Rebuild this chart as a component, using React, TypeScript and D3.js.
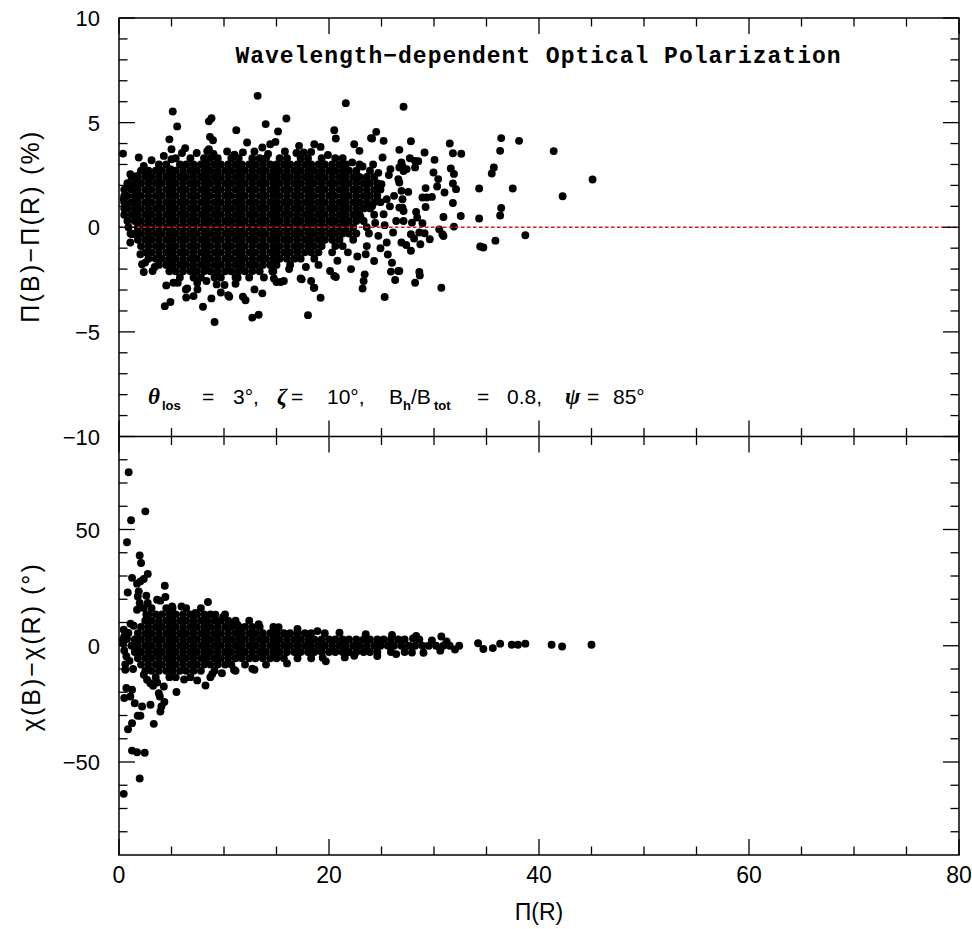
import React from "react";
import * as d3 from "d3";

// ---------- axis ticks ----------
const X_MAJOR = [0, 20, 40, 60, 80];
const TOP_Y_MAJOR = [-10, -5, 0, 5, 10];
const BOT_Y_MAJOR = [-50, 0, 50];

// ---------- top panel: Π(B)−Π(R) vs Π(R) ----------
// dense, saturated core of the cloud, read as rows: [y, x values]
const TOP_CORE_ROWS: [number, number[]][] = [
  [3.3, [5.4, 6.8, 8.1, 8.7, 9.4, 10.7, 11.4, 12.7, 13.4, 14.0, 15.3, 16.0, 17.3, 18.0, 19.3, 20.6]],
  [3.0, [3.8, 4.5, 5.8, 6.4, 7.1, 7.8, 8.4, 9.1, 9.7, 10.4, 11.1, 11.7, 12.4, 13.0, 13.7, 14.4, 15.0, 15.7, 16.3, 17.0, 17.7, 18.3, 19.0, 19.6, 20.3, 21.0, 21.6, 22.9]],
  [2.7, [2.1, 2.8, 3.5, 4.1, 4.8, 5.4, 6.1, 6.8, 7.4, 8.1, 8.7, 9.4, 10.1, 10.7, 11.4, 12.0, 12.7, 13.4, 14.0, 14.7, 15.3, 16.0, 16.7, 17.3, 18.0, 18.6, 19.3, 20.0, 20.6, 21.3, 21.9, 22.6, 23.9]],
  [2.4, [1.2, 1.8, 2.5, 3.1, 3.8, 4.5, 5.1, 5.8, 6.4, 7.1, 7.8, 8.4, 9.1, 9.7, 10.4, 11.1, 11.7, 12.4, 13.0, 13.7, 14.4, 15.0, 15.7, 16.3, 17.0, 17.7, 18.3, 19.0, 19.6, 20.3, 21.0, 21.6, 22.3, 22.9, 23.6, 24.3]],
  [2.1, [0.8, 1.5, 2.1, 2.8, 3.5, 4.1, 4.8, 5.4, 6.1, 6.8, 7.4, 8.1, 8.7, 9.4, 10.1, 10.7, 11.4, 12.0, 12.7, 13.4, 14.0, 14.7, 15.3, 16.0, 16.7, 17.3, 18.0, 18.6, 19.3, 20.0, 20.6, 21.3, 21.9, 22.6, 23.3, 23.9, 24.6]],
  [1.8, [0.5, 1.2, 1.8, 2.5, 3.1, 3.8, 4.5, 5.1, 5.8, 6.4, 7.1, 7.8, 8.4, 9.1, 9.7, 10.4, 11.1, 11.7, 12.4, 13.0, 13.7, 14.4, 15.0, 15.7, 16.3, 17.0, 17.7, 18.3, 19.0, 19.6, 20.3, 21.0, 21.6, 22.3, 22.9, 23.6, 24.3, 24.9]],
  [1.5, [0.5, 0.8, 1.5, 2.1, 2.8, 3.5, 4.1, 4.8, 5.4, 6.1, 6.8, 7.4, 8.1, 8.7, 9.4, 10.1, 10.7, 11.4, 12.0, 12.7, 13.4, 14.0, 14.7, 15.3, 16.0, 16.7, 17.3, 18.0, 18.6, 19.3, 20.0, 20.6, 21.3, 21.9, 22.6, 23.3, 23.9, 24.6]],
  [1.2, [0.5, 1.2, 1.8, 2.5, 3.1, 3.8, 4.5, 5.1, 5.8, 6.4, 7.1, 7.8, 8.4, 9.1, 9.7, 10.4, 11.1, 11.7, 12.4, 13.0, 13.7, 14.4, 15.0, 15.7, 16.3, 17.0, 17.7, 18.3, 19.0, 19.6, 20.3, 21.0, 21.6, 22.3, 22.9, 23.6, 24.3, 24.9]],
  [0.9, [0.5, 0.8, 1.5, 2.1, 2.8, 3.5, 4.1, 4.8, 5.4, 6.1, 6.8, 7.4, 8.1, 8.7, 9.4, 10.1, 10.7, 11.4, 12.0, 12.7, 13.4, 14.0, 14.7, 15.3, 16.0, 16.7, 17.3, 18.0, 18.6, 19.3, 20.0, 20.6, 21.3, 21.9, 22.6, 23.3, 23.9]],
  [0.6, [0.5, 1.2, 1.8, 2.5, 3.1, 3.8, 4.5, 5.1, 5.8, 6.4, 7.1, 7.8, 8.4, 9.1, 9.7, 10.4, 11.1, 11.7, 12.4, 13.0, 13.7, 14.4, 15.0, 15.7, 16.3, 17.0, 17.7, 18.3, 19.0, 19.6, 20.3, 21.0, 21.6, 22.3, 22.9, 24.3]],
  [0.3, [0.8, 1.5, 2.1, 2.8, 3.5, 4.1, 4.8, 5.4, 6.1, 6.8, 7.4, 8.1, 8.7, 9.4, 10.1, 10.7, 11.4, 12.0, 12.7, 13.4, 14.0, 14.7, 15.3, 16.0, 16.7, 17.3, 18.0, 18.6, 19.3, 20.0, 20.6, 21.3, 21.9, 22.6, 23.3]],
  [0.0, [0.9, 1.8, 2.5, 3.1, 3.8, 4.5, 5.1, 5.8, 6.4, 7.1, 7.8, 8.4, 9.1, 9.7, 10.4, 11.1, 11.7, 12.4, 13.0, 13.7, 14.4, 15.0, 15.7, 16.3, 17.0, 17.7, 18.3, 19.0, 19.6, 20.3, 21.0, 21.6, 22.3, 23.6]],
  [-0.3, [1.1, 1.5, 2.1, 2.8, 3.5, 4.1, 4.8, 5.4, 6.1, 6.8, 7.4, 8.1, 8.7, 9.4, 10.1, 10.7, 11.4, 12.0, 12.7, 13.4, 14.0, 14.7, 15.3, 16.0, 16.7, 17.3, 18.0, 18.6, 19.3, 20.0, 20.6, 21.3, 21.9, 22.6]],
  [-0.6, [1.8, 2.5, 3.1, 3.8, 4.5, 5.1, 5.8, 6.4, 7.1, 7.8, 8.4, 9.1, 9.7, 10.4, 11.1, 11.7, 12.4, 13.0, 13.7, 14.4, 15.0, 15.7, 16.3, 17.0, 17.7, 18.3, 19.0, 19.6, 20.3, 21.0, 22.3]],
  [-0.9, [2.1, 2.8, 3.5, 4.1, 4.8, 5.4, 6.1, 6.8, 7.4, 8.1, 8.7, 9.4, 10.1, 10.7, 11.4, 12.0, 12.7, 13.4, 14.0, 14.7, 15.3, 16.0, 16.7, 17.3, 18.0, 18.6, 19.3, 20.6, 21.3]],
  [-1.2, [2.5, 3.1, 3.8, 4.5, 5.1, 5.8, 6.4, 7.1, 7.8, 8.4, 9.1, 9.7, 10.4, 11.1, 11.7, 12.4, 13.0, 13.7, 14.4, 15.0, 15.7, 16.3, 17.0, 17.7, 18.3, 19.0, 20.3]],
  [-1.5, [2.8, 3.5, 4.1, 4.8, 5.4, 6.1, 6.8, 7.4, 8.1, 8.7, 9.4, 10.1, 10.7, 11.4, 12.0, 12.7, 13.4, 14.0, 14.7, 15.3, 16.0, 16.7, 17.3, 18.6]],
  [-1.8, [3.8, 4.5, 5.1, 5.8, 6.4, 7.1, 7.8, 8.4, 9.1, 9.7, 10.4, 11.1, 11.7, 12.4, 13.0, 13.7, 14.4, 15.0, 16.3]],
  [-2.1, [4.8, 5.4, 6.1, 6.8, 7.4, 8.1, 8.7, 9.4, 10.1, 10.7, 11.4, 12.0, 12.7, 13.4, 14.7]],
  [-2.4, [5.8, 7.1, 7.8, 9.1, 9.7, 11.1, 12.4]],
];

// scattered points around the core and the sparse tail: [x, y]
const TOP_SCATTER: [number, number][] = [
  [13.2, 6.28], [21.6, 5.93], [5.12, 5.53], [5.54, 4.82], [8.56, 5.06], [8.81, 5.21], [13.97, 4.93], [15.94, 5.2],
  [11.17, 4.64], [15.15, 4.58], [20.5, 4.64], [20.65, 4.24], [0.38, 3.52], [4.8, 4.2], [5.0, 3.73], [4.27, 3.41],
  [5.0, 3.25], [4.9, 2.78], [8.66, 4.32], [8.95, 4.16], [8.56, 3.73], [8.4, 3.64], [12.2, 4.05], [14.4, 3.97],
  [14.9, 4.08], [13.65, 3.81], [6.3, 3.78], [17.15, 3.89], [18.6, 3.97], [19.2, 3.84], [18.3, 3.6], [22.4, 3.97],
  [22.9, 3.65], [24.1, 4.24], [24.5, 4.56], [24.0, 4.26], [25.2, 4.13], [10.3, 3.62], [11.8, 3.58], [16.9, 3.55],
  [7.4, 3.55], [15.8, 3.62], [21.3, 3.3], [22.2, 3.1], [3.1, 3.2], [6.0, 3.55], [9.0, 3.5], [12.9, 3.62],
  [14.2, 3.5], [17.6, 3.58], [19.9, 3.45], [11.0, 3.47],
  [27.1, 5.76], [27.8, 4.11], [26.7, 3.7], [27.7, 3.3], [28.2, 3.17], [28.5, 3.16], [27.0, 2.9], [27.1, 2.69],
  [26.7, 2.86], [26.7, 2.14], [28.2, 2.86], [29.1, 3.57], [30.05, 3.22], [29.95, 2.62], [30.4, 2.3], [30.3, 1.95],
  [31.0, 1.66], [29.2, 1.87], [28.9, 1.42], [29.3, 1.42], [29.8, 1.45], [29.2, 0.97], [27.55, 1.69], [27.0, 0.94],
  [27.1, 0.78], [26.7, 0.94], [28.3, 0.73], [28.4, 0.46], [27.9, 0.22], [28.9, 0.19], [27.1, 0.3], [30.9, 0.49],
  [31.9, 0.03], [30.5, -0.1], [30.8, -0.33], [30.9, -0.42], [27.8, -0.33], [28.1, -0.54], [28.6, -0.25], [29.1, -0.29],
  [29.6, -0.57], [26.9, -0.73], [27.35, -0.85], [27.8, -1.12], [28.7, -0.81], [26.7, -2.09], [28.2, -2.65], [28.6, -2.14],
  [28.65, -2.3], [30.7, -2.89], [31.5, 4.0], [31.8, 3.54], [32.6, 3.51], [31.6, 2.81], [31.9, 2.55], [31.8, 2.09],
  [32.1, 1.82], [31.8, 1.16], [32.55, 0.54], [34.3, 0.42], [34.3, 1.85], [34.4, -0.92], [34.7, -0.97], [35.85, -0.64],
  [36.3, 3.65], [36.4, 4.26], [35.7, 2.86], [35.5, 2.57], [36.4, 0.92], [36.3, 0.56], [37.5, 1.85], [38.7, -0.38],
  [38.1, 4.13], [41.4, 3.64], [42.25, 1.48], [45.1, 2.28],
  [26.3, -2.52], [25.9, -2.12], [26.6, -2.09], [25.3, -3.33],
  [25.0, 2.06], [25.5, 1.34], [25.2, 0.62], [24.7, -0.41], [25.5, -0.73], [26.1, -0.25], [26.4, 0.3], [27.0, 1.34],
  [26.9, 1.74], [26.6, 2.3], [27.4, 2.78], [26.9, 3.1], [25.85, 2.78], [25.1, 3.33], [25.6, -1.3], [26.0, -1.7],
  [24.9, -1.0], [25.3, 0.1], [25.8, 1.0], [26.2, 1.5], [24.2, 3.0], [23.6, -0.9], [22.7, -1.4], [21.8, -1.2],
  [24.1, 1.0], [24.4, 0.2], [23.0, 0.5], [23.8, -0.3], [25.7, 2.5], [23.2, 2.9], [24.7, 2.6],
  [9.1, -4.53], [12.7, -4.32], [13.3, -4.18], [18.0, -4.2], [4.36, -3.77], [4.9, -3.57], [8.0, -3.8], [6.4, -3.36],
  [7.1, -3.29], [8.8, -3.4], [10.5, -3.32], [11.8, -3.32], [12.05, -3.49], [13.65, -3.16], [12.9, -2.97], [19.2, -3.37],
  [4.5, -2.78], [5.6, -2.65], [6.5, -2.92], [7.45, -2.65], [8.33, -2.57], [9.3, -2.73], [10.05, -2.76], [11.1, -2.7],
  [11.3, -2.41], [15.4, -2.62], [14.75, -2.45], [17.3, -2.45], [18.6, -2.89], [20.65, -2.38], [20.1, -2.09], [22.1, -2.0],
  [23.4, -2.25], [23.3, -2.57], [23.2, -2.93], [24.3, -1.61], [23.5, -1.29], [3.2, -2.09], [2.36, -2.14], [2.04, -1.29],
  [2.5, -1.69], [2.2, -1.77], [1.24, -0.33], [1.08, -0.73], [9.7, -3.12], [10.4, -3.25], [15.7, -2.57], [15.0, -2.62],
  [17.4, -2.49], [18.3, -2.57], [18.55, -2.89], [20.5, -2.33], [5.19, -2.65], [6.37, -2.97], [7.47, -2.97],
  [16.2, -2.0], [17.8, -1.9], [19.0, -1.8], [20.8, -1.6], [14.6, -2.1], [13.8, -2.4], [3.4, -1.9],
  [1.08, 2.54], [1.72, 2.45], [1.88, 3.33], [2.36, 2.93], [2.67, 2.69], [0.45, 1.34], [0.6, 1.02], [0.93, 1.98],
];

// ---------- bottom panel: χ(B)−χ(R) vs Π(R) ----------
const BOT_CORE_ROWS: [number, number[]][] = [
  [16.2, [3.1, 4.5, 5.1, 6.4, 7.8]],
  [13.5, [2.8, 3.5, 4.1, 4.8, 5.4, 6.1, 6.8, 7.4, 8.1, 8.7, 10.1]],
  [10.8, [2.5, 3.1, 3.8, 4.5, 5.1, 5.8, 6.4, 7.1, 7.8, 8.4, 9.1, 9.7, 10.4, 11.1, 12.4]],
  [8.1, [2.1, 2.8, 3.5, 4.1, 4.8, 5.4, 6.1, 6.8, 7.4, 8.1, 8.7, 9.4, 10.1, 10.7, 11.4, 12.0, 12.7, 13.4, 14.7]],
  [5.4, [1.8, 2.5, 3.1, 3.8, 4.5, 5.1, 5.8, 6.4, 7.1, 7.8, 8.4, 9.1, 9.7, 10.4, 11.1, 11.7, 12.4, 13.0, 13.7, 14.4, 15.0, 15.7, 16.3, 17.0, 17.7, 18.3, 19.6]],
  [2.7, [1.5, 2.1, 2.8, 3.5, 4.1, 4.8, 5.4, 6.1, 6.8, 7.4, 8.1, 8.7, 9.4, 10.1, 10.7, 11.4, 12.0, 12.7, 13.4, 14.0, 14.7, 15.3, 16.0, 16.7, 17.3, 18.0, 18.6, 19.3, 20.0, 20.6, 21.3, 21.9, 22.6, 23.3, 23.9, 24.6, 25.2, 25.9, 26.6, 27.2, 28.6]],
  [0, [1.2, 1.8, 2.5, 3.1, 3.8, 4.5, 5.1, 5.8, 6.4, 7.1, 7.8, 8.4, 9.1, 9.7, 10.4, 11.1, 11.7, 12.4, 13.0, 13.7, 14.4, 15.0, 15.7, 16.3, 17.0, 17.7, 18.3, 19.0, 19.6, 20.3, 21.0, 21.6, 22.3, 22.9, 23.6, 24.3, 24.9, 25.6, 26.2, 26.9, 27.6, 28.2, 28.9, 29.5, 30.2, 30.9, 31.5, 32.4]],
  [-2.7, [1.5, 2.1, 2.8, 3.5, 4.1, 4.8, 5.4, 6.1, 6.8, 7.4, 8.1, 8.7, 9.4, 10.1, 10.7, 11.4, 12.0, 12.7, 13.4, 14.0, 14.7, 15.3, 16.0, 16.7, 17.3, 18.0, 18.6, 19.3, 20.0, 20.6, 21.3, 21.9, 22.6, 23.3, 23.9, 24.6, 25.9, 27.2]],
  [-5.4, [1.8, 2.5, 3.1, 3.8, 4.5, 5.1, 5.8, 6.4, 7.1, 7.8, 8.4, 9.1, 9.7, 10.4, 11.1, 11.7, 12.4, 13.0, 13.7, 14.4, 15.0, 15.7, 17.0, 18.3]],
  [-8.1, [2.1, 2.8, 3.5, 4.1, 4.8, 5.4, 6.1, 6.8, 7.4, 8.1, 8.7, 9.4, 10.1, 10.7, 12.0, 14.0]],
  [-10.8, [2.5, 3.1, 3.8, 4.5, 5.1, 5.8, 6.4, 7.1, 7.8, 9.1, 11.1]],
  [-13.5, [3.5, 4.8, 5.4, 6.8, 8.7]],
];

const BOT_SCATTER: [number, number][] = [
  [0.92, 74.6], [2.51, 57.8], [1.15, 54.0], [0.76, 44.5], [1.97, 38.8], [2.1, 35.6], [1.24, 29.2], [1.72, 26.7],
  [2.04, 27.7], [2.74, 30.9], [2.36, 28.7], [0.83, 22.9], [1.88, 23.4], [2.6, 21.5], [4.36, 25.8], [4.42, 21.0],
  [3.94, 19.4], [8.47, 18.8], [1.4, 8.6], [0.45, 6.9], [0.5, 4.0], [0.38, 2.6], [0.76, 2.9], [0.6, -10.3],
  [1.34, -10.0], [0.7, -18.2], [1.24, -18.9], [0.5, -22.5], [1.08, -21.8], [1.5, -24.7], [2.2, -26.1], [3.0, -25.4],
  [1.78, -30.1], [2.04, -30.1], [1.24, -33.3], [0.86, -35.9], [3.31, -33.6], [1.24, -45.1], [1.72, -45.8], [2.45, -46.0],
  [1.97, -57.1], [0.45, -63.7], [2.36, -12.5], [2.67, -14.6], [2.99, -16.1], [3.25, -17.2], [3.63, -15.8], [4.27, -17.5],
  [3.79, -20.4], [3.89, -21.8], [4.04, -26.1], [3.94, -28.3], [4.32, -24.2], [5.47, -19.9], [3.63, 19.8], [2.74, 18.4],
  [1.79, 21.2], [1.97, 18.4], [2.36, 16.2], [2.6, 13.4], [1.72, 15.5], [7.28, 14.1], [9.19, 13.4], [9.93, 12.4],
  [5.95, 16.9], [5.06, 16.9], [10.9, 9.3], [13.3, 9.3], [11.3, 9.0], [8.24, -17.1], [7.45, -14.9], [8.88, -12.1],
  [12.7, -9.9], [10.95, -10.3], [19.7, -6.7], [12.9, -10.3], [6.2, -14.5], [9.8, -11.8],
  [0.4, 1.0], [0.5, -2.0], [0.7, -4.5], [1.0, -6.5], [0.9, 5.5], [1.1, 9.5], [0.6, -8.0],
  [15.2, 8.0], [17.0, 7.2], [21.0, 5.6], [23.5, 5.0], [26.0, 4.6], [28.3, 4.2], [30.7, 4.0], [18.9, 6.3],
  [16.0, -7.6], [21.5, -5.0], [24.6, -4.4], [29.0, -3.0], [19.4, -5.2], [22.4, -4.3], [26.4, -3.6],
  [29.8, 2.3], [31.2, 1.9], [32.0, -1.6], [30.6, -2.1], [28.0, 3.1], [27.9, -2.9],
  [34.2, 1.1], [34.7, -1.4], [35.6, -1.0], [36.3, 0.9], [37.4, 0.4], [38.0, 0.4], [38.7, 0.9], [41.2, 0.4],
  [42.2, -0.3], [45.0, 0.4],
];

const TITLE = "Wavelength\u2212dependent Optical Polarization";

export default function App() {
  const W = 972;
  const H = 929;
  const left = 119, right = 959, top = 18, mid = 436.5, bottom = 855;

  const x = d3.scaleLinear().domain([0, 80]).range([left, right]);
  const yTop = d3.scaleLinear().domain([-10, 10]).range([mid, top]);
  const yBot = d3.scaleLinear().domain([-90, 90]).range([bottom, mid]);

  const flatten = (rows: [number, number[]][]) =>
    rows.flatMap(([yv, xs]) => xs.map((xv) => [xv, yv] as [number, number]));

  const topPts = [...flatten(TOP_CORE_ROWS), ...TOP_SCATTER];
  const botPts = [...flatten(BOT_CORE_ROWS), ...BOT_SCATTER];

  const r = 3.95;
  const MAJ = 16, MIN = 8.5;
  const xMinor = d3.range(0, 80.01, 5);
  const topMinor = d3.range(-10, 10.01, 1);
  const botMinor = d3.range(-80, 80.01, 10);
  const sans = "'Liberation Sans', Arial, sans-serif";
  const minus = (v: number) => (v < 0 ? "\u2212" + Math.abs(v) : String(v));

  const tickLines: JSX.Element[] = [];
  let k = 0;
  xMinor.forEach((v) => {
    const len = v % 20 === 0 ? MAJ : MIN;
    const px = x(v);
    tickLines.push(<line key={k++} x1={px} x2={px} y1={top} y2={top + len} />);
    tickLines.push(<line key={k++} x1={px} x2={px} y1={mid} y2={mid - len} />);
    tickLines.push(<line key={k++} x1={px} x2={px} y1={mid} y2={mid + len} />);
    tickLines.push(<line key={k++} x1={px} x2={px} y1={bottom} y2={bottom - len} />);
  });
  topMinor.forEach((v) => {
    const len = v % 5 === 0 ? MAJ : MIN;
    const py = yTop(v);
    tickLines.push(<line key={k++} x1={left} x2={left + len} y1={py} y2={py} />);
    tickLines.push(<line key={k++} x1={right} x2={right - len} y1={py} y2={py} />);
  });
  botMinor.forEach((v) => {
    const len = v % 50 === 0 ? MAJ : MIN;
    const py = yBot(v);
    tickLines.push(<line key={k++} x1={left} x2={left + len} y1={py} y2={py} />);
    tickLines.push(<line key={k++} x1={right} x2={right - len} y1={py} y2={py} />);
  });

  const greek = { fontFamily: "'Liberation Serif', serif", fontWeight: "bold", fontStyle: "italic", fontSize: 23 } as const;

  return (
    <svg
      width={W}
      height={H}
      viewBox={`0 0 ${W} ${H}`}
      style={{ position: "absolute", left: 0, top: 0, background: "#fff" }}
    >
      <rect x={0} y={0} width={W} height={H} fill="#fff" />

      <g fill="#000">
        {topPts.map((d, i) => (
          <circle key={"t" + i} cx={x(d[0])} cy={yTop(d[1])} r={r} />
        ))}
        {botPts.map((d, i) => (
          <circle key={"b" + i} cx={x(d[0])} cy={yBot(d[1])} r={r} />
        ))}
      </g>

      <line
        x1={left}
        x2={right}
        y1={yTop(0)}
        y2={yTop(0)}
        stroke="#d81818"
        strokeWidth={1.3}
        strokeDasharray="3.5,2.5"
      />

      <g stroke="#000" strokeWidth={1.5} fill="none">
        <rect x={left} y={top} width={right - left} height={bottom - top} />
        <line x1={left} x2={right} y1={mid} y2={mid} />
      </g>
      <g stroke="#000" strokeWidth={1.3}>{tickLines}</g>

      <g fontFamily={sans} fontSize={22} textAnchor="end" fill="#000">
        {TOP_Y_MAJOR.map((v) => (
          <text key={"ty" + v} x={100} y={yTop(v) + 8}>
            {minus(v)}
          </text>
        ))}
        {BOT_Y_MAJOR.map((v) => (
          <text key={"by" + v} x={100} y={yBot(v) + 8}>
            {minus(v)}
          </text>
        ))}
      </g>

      <g fontFamily={sans} fontSize={23} textAnchor="middle" fill="#000">
        {X_MAJOR.map((v) => (
          <text key={"x" + v} x={x(v)} y={883}>
            {v}
          </text>
        ))}
      </g>

      <text x={x(40)} y={920} fontFamily={sans} fontSize={23} textAnchor="middle">
        {"\u03A0(R)"}
      </text>
      <text
        transform={`translate(39, ${yTop(0)}) rotate(-90)`}
        fontFamily={sans}
        fontSize={25}
        textAnchor="middle"
        textLength={191}
        lengthAdjust="spacing"
      >
        {"\u03A0(B)\u2212\u03A0(R)  (%)"}
      </text>
      <text
        transform={`translate(40, ${yBot(0) + 2}) rotate(-90)`}
        fontFamily={sans}
        fontSize={25}
        textAnchor="middle"
        textLength={167}
        lengthAdjust="spacing"
      >
        {"\u03C7(B)\u2212\u03C7(R)  (\u00B0)"}
      </text>

      <text
        x={538}
        y={63}
        fontFamily="'Liberation Mono', 'DejaVu Sans Mono', monospace"
        fontWeight="bold"
        fontSize={23}
        textAnchor="middle"
        textLength={605}
        lengthAdjust="spacing"
      >
        {TITLE}
      </text>

      <text fontFamily={sans} fontSize={21} y={404} fill="#000">
        <tspan x={148} {...greek}>{"\u03B8"}</tspan>
        <tspan x={162} y={410} fontWeight="bold" fontSize={13}>los</tspan>
        <tspan x={202} y={404}>=</tspan>
        <tspan x={233}>{"3\u00B0,"}</tspan>
        <tspan x={277} {...greek}>{"\u03B6"}</tspan>
        <tspan x={291}>=</tspan>
        <tspan x={327}>{"10\u00B0,"}</tspan>
        <tspan x={389}>B</tspan>
        <tspan x={403} y={410} fontWeight="bold" fontSize={13}>h</tspan>
        <tspan x={411} y={404}>/B</tspan>
        <tspan x={434} y={410} fontWeight="bold" fontSize={13}>tot</tspan>
        <tspan x={477} y={404}>=</tspan>
        <tspan x={507}>0.8,</tspan>
        <tspan x={565} {...greek}>{"\u03C8"}</tspan>
        <tspan x={587}>=</tspan>
        <tspan x={613}>{"85\u00B0"}</tspan>
      </text>
    </svg>
  );
}
